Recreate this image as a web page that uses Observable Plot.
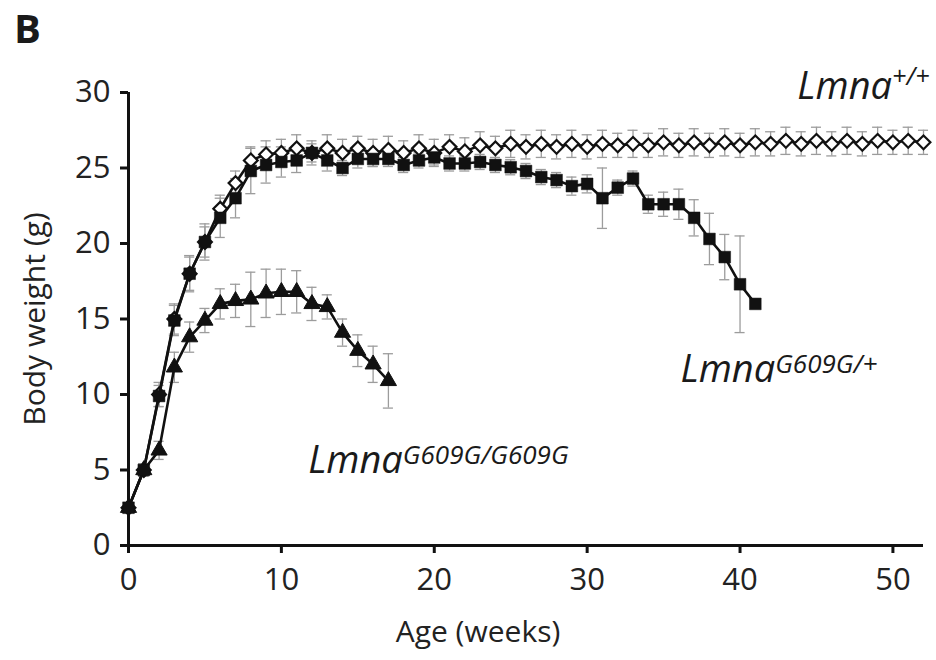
<!DOCTYPE html>
<html><head><meta charset="utf-8">
<script src="https://cdn.jsdelivr.net/npm/d3@7"></script>
<script src="https://cdn.jsdelivr.net/npm/@observablehq/plot@0.6"></script>
<style>
html,body{margin:0;padding:0;background:#fff;}
body{width:936px;height:660px;overflow:hidden;font-family:"Open Sans",sans-serif;}
#panel{height:56px;padding:0 0 0 14px;font-size:40px;font-weight:bold;line-height:56px;color:#1a1a1a;}
#chart svg{display:block;}
</style></head><body>
<div id="panel">B</div>
<div id="chart"></div>
<script>
// Lmna+/+ (open diamonds)
const weeksWT = [0,1,2,3,4,5,6,7,8,9,10,11,12,13,14,15,16,17,18,19,20,21,22,23,24,25,26,27,28,29,30,31,32,33,34,35,36,37,38,39,40,41,42,43,44,45,46,47,48,49,50,51,52];
const weightWT = [2.5,5.0,10.0,15.0,18.0,20.1,22.3,24.0,25.5,25.9,26.0,26.3,26.0,26.3,26.0,26.3,26.0,26.2,26.0,26.3,26.0,26.4,26.1,26.5,26.3,26.6,26.4,26.6,26.4,26.6,26.4,26.6,26.5,26.6,26.5,26.7,26.5,26.7,26.5,26.7,26.5,26.7,26.6,26.8,26.6,26.8,26.6,26.8,26.6,26.8,26.7,26.8,26.7];
const sdWT = [0.3,0.4,0.8,1.0,1.1,1.0,0.9,0.8,0.9,0.9,0.9,0.9,0.8,0.9,0.9,0.8,0.9,0.9,0.8,0.9,0.9,0.8,0.9,0.9,0.8,0.9,0.8,0.9,0.8,0.9,0.8,0.9,0.8,0.9,0.8,0.9,0.8,0.9,0.8,0.9,0.8,0.9,0.8,0.9,0.8,0.9,0.8,0.9,0.8,0.9,0.8,0.9,0.8];

// LmnaG609G/+ (filled squares)
const weeksHet = [0,1,2,3,4,5,6,7,8,9,10,11,12,13,14,15,16,17,18,19,20,21,22,23,24,25,26,27,28,29,30,31,32,33,34,35,36,37,38,39,40,41];
const weightHet = [2.5,5.0,9.9,14.9,18.0,20.1,21.7,23.0,24.8,25.2,25.4,25.5,26.0,25.5,25.0,25.6,25.6,25.6,25.2,25.5,25.7,25.3,25.3,25.4,25.2,25.05,24.8,24.4,24.2,23.8,23.95,23.0,23.7,24.3,22.6,22.6,22.6,21.7,20.3,19.1,17.3,16.0];
const sdHet = [0.3,0.4,0.7,1.0,1.2,1.2,1.3,1.3,1.5,1.2,1.0,0.8,0.6,0.7,0.5,0.6,0.5,0.5,0.5,0.5,0.5,0.5,0.5,0.5,0.5,0.5,0.5,0.5,0.5,0.6,0.6,2.0,0.5,0.5,0.6,0.8,1.0,1.2,1.7,1.5,3.2,0];

// LmnaG609G/G609G (filled triangles)
const weeksHom = [0,1,2,3,4,5,6,7,8,9,10,11,12,13,14,15,16,17];
const weightHom = [2.5,5.0,6.3,11.8,13.8,14.9,16.0,16.2,16.3,16.7,16.8,16.8,16.0,15.8,14.1,12.9,12.0,10.9];
const sdHom = [0.3,0.4,0.6,1.0,1.0,0.8,1.0,1.1,1.8,1.6,1.5,1.4,1.1,0.8,0.9,1.05,1.2,1.8];

const xTicks = [0,10,20,30,40,50];
const yTicks = [0,5,10,15,20,25,30];
const labelBase = ["Lmna","Lmna","Lmna"];
const labelSup = ["+/+","G609G/+","G609G/G609G"];

function rows(series, weeks, w, sd) {
  return weeks.map((wk, i) => ({series, week: wk, weight: w[i], sd: sd[i]}));
}
const wt = rows("WT", weeksWT, weightWT, sdWT);
const het = rows("Het", weeksHet, weightHet, sdHet);
const hom = rows("Hom", weeksHom, weightHom, sdHom);
const allRows = [...wt, ...het, ...hom].filter(d => d.sd > 0);

const annotations = [
  {i: 0, x: 43.75, y: 29.6, supSize: 25, supDy: -14},
  {i: 1, x: 36.1, y: 10.8, supSize: 26, supDy: -9},
  {i: 2, x: 11.75, y: 4.83, supSize: 26, supDy: -9}
];

const errColor = "#9c9c9c";
const capHalf = 0.33;

const plot = Plot.plot({
  width: 936, height: 604,
  marginLeft: 128, marginRight: 13, marginTop: 36, marginBottom: 115,
  x: {domain: [0, 52]},
  y: {domain: [0, 30]},
  style: {fontFamily: "Open Sans", background: "#fff", overflow: "visible"},
  marks: [
    // error bars
    Plot.ruleX(allRows, {x: "week", y1: d => d.weight - d.sd, y2: d => d.weight + d.sd, stroke: errColor, strokeWidth: 1.3}),
    Plot.ruleY(allRows, {y: d => d.weight + d.sd, x1: d => d.week - capHalf, x2: d => d.week + capHalf, stroke: errColor, strokeWidth: 1.3}),
    Plot.ruleY(allRows, {y: d => d.weight - d.sd, x1: d => d.week - capHalf, x2: d => d.week + capHalf, stroke: errColor, strokeWidth: 1.3}),
    // axes lines
    Plot.ruleY([0], {x1: -0.35, x2: 52, stroke: "#111", strokeWidth: 3}),
    Plot.ruleX([0], {y1: 0, y2: 30, stroke: "#111", strokeWidth: 3}),
    Plot.axisX({ticks: xTicks, tickSize: 8, tickPadding: 14, fontSize: 31, stroke: "#111", strokeWidth: 3, fill: "#222", label: null}),
    Plot.axisY({ticks: yTicks, tickSize: 8, tickPadding: 10, fontSize: 31, stroke: "#111", strokeWidth: 3, fill: "#222", label: null}),
    // series
    Plot.line(wt, {x: "week", y: "weight", stroke: "#111", strokeWidth: 2.6}),
    Plot.dot(wt, {x: "week", y: "weight", symbol: "diamond2", r: 6.2, fill: "#fff", stroke: "#111", strokeWidth: 2.2}),
    Plot.line(hom, {x: "week", y: "weight", stroke: "#111", strokeWidth: 2.6}),
    Plot.dot(hom, {x: "week", y: "weight", symbol: "triangle", r: 6, fill: "#111", stroke: "#111", strokeWidth: 1}),
    Plot.line(het, {x: "week", y: "weight", stroke: "#111", strokeWidth: 2.6}),
    Plot.dot(het, {x: "week", y: "weight", symbol: "square", r: 6.6, fill: "#111", stroke: "#111", strokeWidth: 0.5}),
    // genotype labels
    Plot.text(annotations, {x: "x", y: "y", text: d => labelBase[d.i], textAnchor: "start", lineAnchor: "bottom", fontSize: 38, fontStyle: "italic", fill: "#1a1a1a"}),
    // axis titles
    Plot.text(["Body weight (g)"], {frameAnchor: "left", dx: -93, rotate: -90, textAnchor: "middle", lineAnchor: "middle", fontSize: 30, fill: "#222"}),
    Plot.text(["Age (weeks)"], {frameAnchor: "bottom", dx: -48, dy: 87, textAnchor: "middle", lineAnchor: "middle", fontSize: 30, fill: "#222"})
  ]
});

// add superscripts to the genotype labels
const labelNodes = d3.select(plot).selectAll("text").filter(function() {
  return this.textContent === "Lmna";
});
labelNodes.each(function(_, k) {
  const t = d3.select(this);
  const a = annotations[k];
  t.selectAll("*").remove();
  t.text(labelBase[a.i]);
  t.append("tspan").attr("dy", a.supDy).attr("font-size", a.supSize + "px").text(labelSup[a.i]);
});

document.getElementById("chart").appendChild(plot);
</script>
</body></html>
